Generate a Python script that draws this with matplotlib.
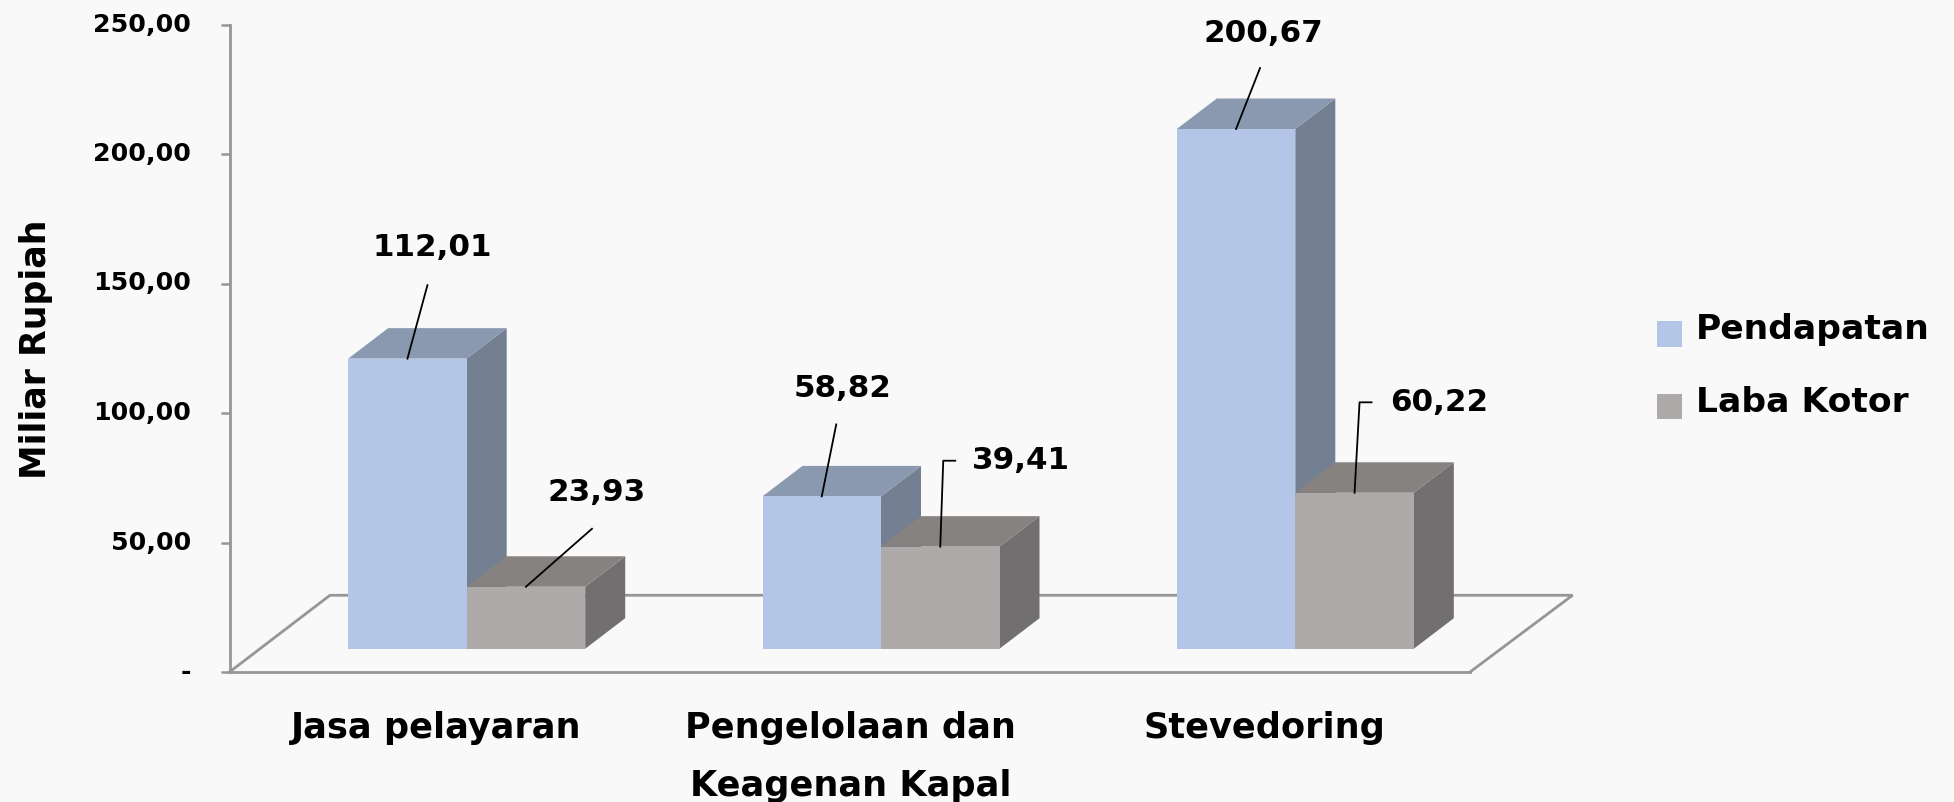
import matplotlib
matplotlib.use("Agg")
import matplotlib.pyplot as plt

categories = ["Jasa pelayaran", "Pengelolaan dan\nKeagenan Kapal", "Stevedoring"]
pendapatan = [112.01, 58.82, 200.67]
laba_kotor = [23.93, 39.41, 60.22]
label_pendapatan = ["112,01", "58,82", "200,67"]
label_laba = ["23,93", "39,41", "60,22"]
y_ticks = [0, 50, 100, 150, 200, 250]
y_tick_labels = ["-", "50,00", "100,00", "150,00", "200,00", "250,00"]

W, H = 1954, 802
BG = "#F9F9F9"
AXIS = "#969696"

# ----------------------------------
# scales: one category = 414.3 px, one value unit = 2.592 px
# ----------------------------------
PX_X = 414.3
PX_Y = 2.592
bar_w = 118.5 / PX_X
depth_x = 40 / PX_X
depth_y = 30.5 / PX_Y
base = 23.3 / PX_Y  # front of the bars stands a bit above the front floor edge


def px_dx(p):
    return p / PX_X


def px_dy(p):
    return p / PX_Y


fig = plt.figure(figsize=(W / 100, H / 100), dpi=100, facecolor=BG)
ax = fig.add_axes([229.5 / W, 1 - 672 / H, (1572.6 - 229.5) / W, (672 - 24.5) / H], facecolor=BG)
ax.set_xlim((229.5 - 466.7) / PX_X, (1572.6 - 466.7) / PX_X)
ax.set_ylim(0, 250)

# floor of the 3d box
x0 = ax.get_xlim()[0]
x1 = ax.get_xlim()[1]
ax.plot([x0, x0 + px_dx(100.5), x1, x1 - px_dx(102.6)], [0, px_dy(76.8), px_dy(76.8), 0],
        color=AXIS, lw=2.0, zorder=1, clip_on=False, solid_joinstyle="miter")


def bar3d(x, v, front, side, top, z, label):
    # side and top faces first, front face on top of them
    right = x + bar_w
    y_top = base + v
    ax.fill([right, right + depth_x, right + depth_x, right],
            [base, base + depth_y, y_top + depth_y, y_top], color=side, lw=0, zorder=z)
    ax.fill([x, x + depth_x, right + depth_x, right],
            [y_top, y_top + depth_y, y_top + depth_y, y_top], color=top, lw=0, zorder=z)
    return ax.bar(x, v, width=bar_w, bottom=base, align="edge", color=front, lw=0, zorder=z + 0.5, label=label)


for i in range(len(categories)):
    b1 = bar3d(i - bar_w, pendapatan[i], "#B3C6E7", "#748092", "#8B99B0", 2, "Pendapatan" if i == 0 else None)
    b2 = bar3d(i, laba_kotor[i], "#AEAAAA", "#716F6F", "#868280", 3, "Laba Kotor" if i == 0 else None)

# ----------------------------------
# value labels with leader lines (pixel offsets from the middle of the bar top)
# ----------------------------------
lead_p = [[(0, 0), (20, 73.5)], [(0, 0), (14.5, 72)], [(0, 0), (24, 61)]]
lead_l = [[(0, 0), (66, 58)], [(0, 0), (3, 86), (15, 86)], [(0, 0), (5, 90.5), (17, 90.5)]]
text_p = [(24.5, 111), (20.5, 108), (27, 96)]
text_l = [(70.5, 94), (81, 86), (85, 90)]

for i in range(len(categories)):
    for xc, v, lead, off, txt in [
        (i - bar_w / 2, pendapatan[i], lead_p[i], text_p[i], label_pendapatan[i]),
        (i + bar_w / 2, laba_kotor[i], lead_l[i], text_l[i], label_laba[i]),
    ]:
        ax.plot([xc + px_dx(p[0]) for p in lead], [base + v + px_dy(p[1]) for p in lead],
                color="black", lw=1.3, zorder=6, clip_on=False)
        ax.text(xc + px_dx(off[0]), base + v + px_dy(off[1]), txt, ha="center", va="center",
                fontsize=22.3, fontweight="bold", zorder=7, clip_on=False)

# axes
for s in ["top", "right"]:
    ax.spines[s].set_visible(False)
for s in ["left", "bottom"]:
    ax.spines[s].set_color(AXIS)
    ax.spines[s].set_linewidth(2.0)
ax.spines["bottom"].set_bounds(x0, x1 - px_dx(102.6))

ax.set_yticks(y_ticks)
ax.set_yticklabels(y_tick_labels, fontsize=18.2, fontweight="bold", va="center")
ax.tick_params(axis="y", length=6.8, width=1.8, color=AXIS, pad=21)

ax.set_xticks([i - px_dx(30.5) for i in range(len(categories))])
ax.set_xticklabels(categories, fontsize=25.3, fontweight="bold", linespacing=1.88)
ax.tick_params(axis="x", length=0, pad=28)

ax.set_ylabel("Miliar Rupiah", fontsize=25, fontweight="bold", va="center")
ax.yaxis.set_label_coords((36 - 229.5) / (1572.6 - 229.5), 0.499)

# legend, boxes sit a little lower than the text
fs = 24.8
leg = ax.legend(loc="upper left", bbox_to_anchor=(1657 / W, 1 - 313 / H), bbox_transform=fig.transFigure,
                frameon=False, borderpad=0, borderaxespad=0,
                prop={"size": fs, "weight": "bold"}, handlelength=18 / fs, handleheight=18.7 / fs,
                handletextpad=10 / fs, labelspacing=1.15)
for p in leg.get_patches():
    p.set_y(p.get_y() - 5)
    p.set_linewidth(0)

fig.savefig("out.png", dpi=100, facecolor=BG)
